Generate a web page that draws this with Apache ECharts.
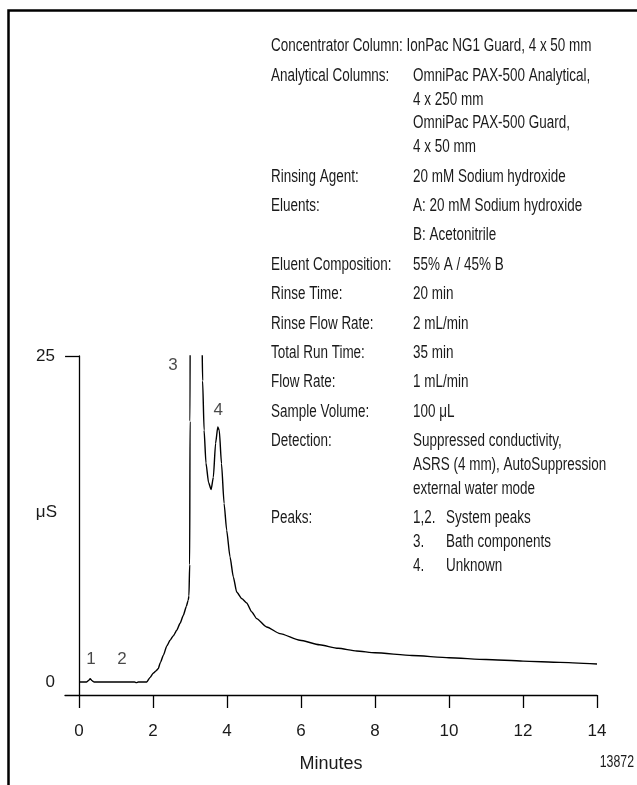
<!DOCTYPE html>
<html>
<head>
<meta charset="utf-8">
<script src="https://cdn.jsdelivr.net/npm/echarts@6/dist/echarts.min.js"></script>
<style>
html,body{margin:0;padding:0;background:#fff;}
#chart{width:637px;height:785px;}
</style>
</head>
<body>
<div id="chart"></div>
<script>
// ---- data ----
const timeMin = [0, 0.2, 0.26, 0.3, 0.35, 0.4, 1.0, 1.5, 1.55, 1.6, 1.83, 1.92, 2.01, 2.08, 2.14, 2.2, 2.28, 2.37, 2.46, 2.55, 2.64, 2.73, 2.82, 2.9, 2.95, 2.97, 2.99, 3.0, 3.01, 3.12, 3.25, 3.32, 3.34, 3.38, 3.43, 3.5, 3.57, 3.63, 3.69, 3.75, 3.79, 3.85, 3.92, 3.99, 4.08, 4.17, 4.26, 4.4, 4.53, 4.67, 4.8, 5.07, 5.43, 5.97, 6.5, 7.0, 7.5, 8.0, 9.0, 10.0, 11.0, 12.0, 13.0, 14.0];
const signal  = [0, 0, 0.12, 0.25, 0.1, 0, 0, 0, -0.05, 0, 0, 0.35, 0.69, 0.85, 1.02, 1.5, 2.05, 2.75, 3.2, 3.55, 3.97, 4.5, 5.12, 5.8, 6.27, 6.6, 9, 20, 40, 70, 45, 27, 23.1, 19.3, 16.8, 15.3, 14.76, 15.7, 18.3, 19.55, 19.3, 16.75, 13.7, 11.64, 9.6, 8.06, 6.9, 6.39, 6.06, 5.37, 4.86, 4.22, 3.71, 3.2, 2.85, 2.58, 2.38, 2.24, 2.03, 1.86, 1.72, 1.6, 1.5, 1.38];

const peakNames = ['1', '2', '3', '4'];
const peakX = [0.32, 1.16, 2.54, 3.76];
const peakY = [1.7, 1.7, 24.3, 20.8];

const xTicks = [0, 2, 4, 6, 8, 10, 12, 14];
const yTicks = [0, 25];
const yMajorTick = [25];

const xAxisName = 'Minutes';
const yAxisName = 'μS';
const figureId = '13872';

const specLabels = ['Concentrator Column:', 'Analytical Columns:', 'Rinsing Agent:', 'Eluents:', '', 'Eluent Composition:', 'Rinse Time:', 'Rinse Flow Rate:', 'Total Run Time:', 'Flow Rate:', 'Sample Volume:', 'Detection:', 'Peaks:'];
const specValues = [
  ['IonPac NG1 Guard, 4 x 50 mm'],
  ['OmniPac PAX-500 Analytical,', '4 x 250 mm', 'OmniPac PAX-500 Guard,', '4 x 50 mm'],
  ['20 mM Sodium hydroxide'],
  ['A: 20 mM Sodium hydroxide'],
  ['B: Acetonitrile'],
  ['55% A / 45% B'],
  ['20 min'],
  ['2 mL/min'],
  ['35 min'],
  ['1 mL/min'],
  ['100 μL'],
  ['Suppressed conductivity,', 'ASRS (4 mm), AutoSuppression', 'external water mode'],
  ['1,2.\tSystem peaks', '3.\tBath components', '4.\tUnknown']
];

// ---- layout / style ----
const AXFONT = "'Liberation Sans', Arial, sans-serif";
const TXFONT = "'Liberation Sans', Arial, sans-serif";
const AXSIZE = 17;
const TXT = 17.5;
const NARROW = 0.77;
const INK = '#1a1a1a';
const labelX = 271, valueX = 413, subX = 446;
const firstY = 46.5, entryGap = 29.4, lineGap = 23.8;

const measureCtx = document.createElement('canvas').getContext('2d');
measureCtx.font = TXT + 'px ' + TXFONT;

const graphics = [];
graphics.push({
  type: 'rect', z: -10, silent: true,
  shape: { x: 8.5, y: 10.5, width: 1000, height: 1000 },
  style: { fill: 'none', stroke: '#000', lineWidth: 2.5 }
});

function narrowText(str, x, y, size, align) {
  return {
    type: 'text', x: x, y: y, scaleX: NARROW, silent: true,
    style: { text: str, x: 0, y: 0, font: size + 'px ' + TXFONT, fill: INK, verticalAlign: 'middle', align: align || 'left' }
  };
}

let yPos = firstY;
specLabels.forEach((lab, i) => {
  if (i > 0) yPos += entryGap;
  const vals = specValues[i];
  let vx = valueX;
  if (lab) {
    graphics.push(narrowText(lab, labelX, yPos, TXT));
    const wLab = measureCtx.measureText(lab).width * NARROW;
    if (labelX + wLab > valueX - 14) vx = labelX + measureCtx.measureText(lab + ' ').width * NARROW;
  }
  vals.forEach((v, j) => {
    if (j > 0) yPos += lineGap;
    const parts = v.split('\t');
    graphics.push(narrowText(parts[0], vx, yPos, TXT));
    if (parts.length > 1) graphics.push(narrowText(parts[1], subX, yPos, TXT));
  });
});

graphics.push(narrowText(figureId, 634, 763, 16, 'right'));

const chart = echarts.init(document.getElementById('chart'), null, { renderer: 'canvas' });
chart.setOption({
  backgroundColor: '#fff',
  animation: false,
  textStyle: { fontFamily: AXFONT },
  grid: { left: 65, right: 40, top: 356, bottom: 90, containLabel: false, outerBoundsMode: 'none' },
  xAxis: {
    type: 'value', min: -0.38, max: 14,
    name: xAxisName, nameLocation: 'middle', nameGap: 60, nameMoveOverlap: false,
    nameTextStyle: { fontSize: 18, color: INK, fontFamily: AXFONT },
    axisLine: { onZero: false, lineStyle: { color: '#000', width: 1.3 } },
    axisTick: { show: true, inside: false, length: 13, customValues: xTicks, lineStyle: { color: '#000', width: 1.3 } },
    axisLabel: { customValues: xTicks, margin: 28, fontSize: AXSIZE, color: INK, fontFamily: AXFONT },
    splitLine: { show: false }
  },
  yAxis: {
    type: 'value', min: -1, max: 25,
    name: yAxisName, nameLocation: 'middle', nameGap: 8, nameRotate: 0, nameMoveOverlap: false,
    nameTextStyle: { fontSize: AXSIZE, color: INK, fontFamily: AXFONT, verticalAlign: 'bottom', lineHeight: 26 },
    axisLine: { onZero: true, lineStyle: { color: '#000', width: 1.3 } },
    axisTick: { show: true, inside: false, length: 14, customValues: yMajorTick, lineStyle: { color: '#000', width: 1.3 } },
    axisLabel: { customValues: yTicks, margin: 10, fontSize: AXSIZE, color: INK, fontFamily: AXFONT },
    splitLine: { show: false }
  },
  series: [
    {
      type: 'line',
      data: timeMin.map((t, i) => [t, signal[i]]),
      showSymbol: false,
      smooth: 0.2,
      smoothMonotone: 'x',
      clip: true,
      lineStyle: { color: '#000', width: 1.4 },
      silent: true
    },
    {
      type: 'scatter',
      data: peakNames.map((n, i) => ({ name: n, value: [peakX[i], peakY[i]] })),
      symbolSize: 0,
      silent: true,
      label: { show: true, position: 'inside', formatter: p => p.name, fontSize: AXSIZE, color: INK, fontFamily: AXFONT }
    }
  ],
  graphic: graphics
});
</script>
</body>
</html>
